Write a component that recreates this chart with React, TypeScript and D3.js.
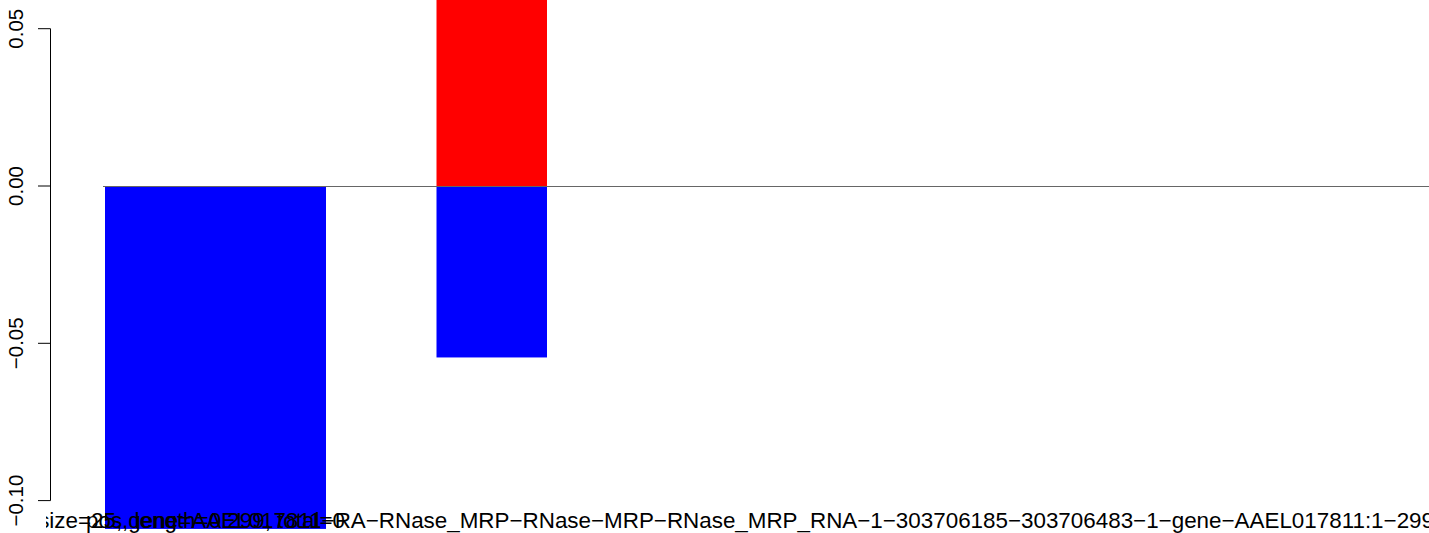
import React from "react";
import * as d3 from "d3";

// ---- data ----
const categories = ["bar1", "bar2"];
const barWidths = [2, 1];
const barSpaces = [0, 1];
const negValues = [-0.109, -0.0545];
const posValues = [0, 0.065];
const yTicks = [-0.1, -0.05, 0, 0.05];
const yTickLabels = ["\u22120.10", "\u22120.05", "0.00", "0.05"];
const labelShort = "pos, length=0.299, total=0";
const labelLong =
  "size=25, gene=AAEL017811\u2212RA\u2212RNase_MRP\u2212RNase\u2212MRP\u2212RNase_MRP_RNA\u22121\u2212303706185\u2212303706483\u22121\u2212gene\u2212AAEL017811:1\u2212299";

const W = 1429;
const H = 533;
const FONT = "'Liberation Sans', Arial, Helvetica, sans-serif";

export default function App() {
  const y = d3.scaleLinear().domain([-0.1, 0.05]).range([500.6, 28.7]);
  const unitPx = 110.5;
  const x = d3.scaleLinear().domain([0, 1]).range([105, 105 + unitPx]);

  let acc = 0;
  const bars = categories.map((c, i) => {
    acc += barSpaces[i];
    const start = acc;
    acc += barWidths[i];
    return { c, start, end: acc, neg: negValues[i], pos: posValues[i] };
  });

  return (
    <svg
      width={W}
      height={H}
      style={{ position: "absolute", left: 0, top: 0, background: "#fff" }}
      fontFamily={FONT}
    >
      <defs>
        <clipPath id="lblclip">
          <rect x={46} y={0} width={W - 46} height={H} />
        </clipPath>
      </defs>
      {bars.map((b) => (
        <g key={b.c}>
          {b.pos > 0 && (
            <rect
              x={x(b.start)}
              y={y(b.pos)}
              width={x(b.end) - x(b.start)}
              height={y(0) - y(b.pos)}
              fill="#ff0000"
            />
          )}
          <rect
            x={x(b.start)}
            y={y(0)}
            width={x(b.end) - x(b.start)}
            height={y(b.neg) - y(0)}
            fill="#0000ff"
          />
        </g>
      ))}
      <line x1={103} x2={W} y1={y(0) + 0.5} y2={y(0) + 0.5} stroke="#666666" strokeWidth={1} />
      <line x1={50.5} x2={50.5} y1={y(0.05)} y2={y(-0.1)} stroke="#000" strokeWidth={1} />
      {yTicks.map((t, i) => (
        <g key={t}>
          <line x1={38} x2={50.5} y1={y(t)} y2={y(t)} stroke="#000" strokeWidth={1} />
          <text
            transform={`translate(22.5,${y(t)}) rotate(-90)`}
            textAnchor="middle"
            fontSize={20.5}
            fill="#000"
          >
            {yTickLabels[i]}
          </text>
        </g>
      ))}
      <g clipPath="url(#lblclip)" fontSize={22.4} fill="#000">
        <text x={(x(bars[0].start) + x(bars[0].end)) / 2} y={528} textAnchor="middle">
          {labelShort}
        </text>
        <text x={1434} y={528} textAnchor="end">
          {labelLong}
        </text>
      </g>
    </svg>
  );
}
